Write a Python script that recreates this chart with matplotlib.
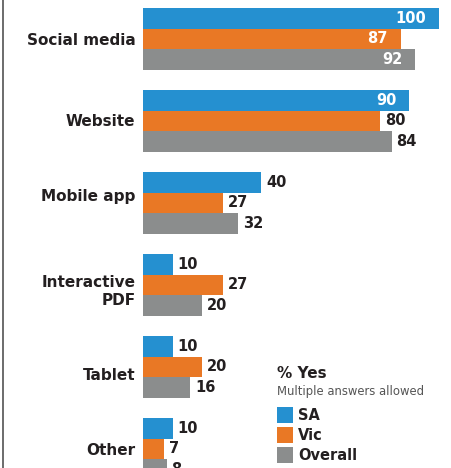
import matplotlib
matplotlib.use("Agg")
import matplotlib.pyplot as plt
from matplotlib.patches import Rectangle
from matplotlib.lines import Line2D
import numpy as np

# Data (% answering yes)
categories = ["Social media", "Website", "Mobile app", "Interactive\nPDF", "Tablet", "Other"]
series_names = ["SA", "Vic", "Overall"]
sa = [100, 90, 40, 10, 10, 10]
vic = [87, 80, 27, 27, 20, 7]
overall = [92, 84, 32, 20, 16, 8]

# values printed in white inside the bar: (category index, series index)
inside_labels = {(0, 0), (0, 1), (0, 2), (1, 0)}

colors = ["#2590d0", "#e97825", "#8b8d8d"]
dark = "#231f20"

plt.rcParams["font.family"] = ["DejaVu Sans"]

W, H = 451, 468
PX_PER_BAR = 20.5
fig = plt.figure(figsize=(W / 100, H / 100), dpi=100)
ax = fig.add_axes([143 / W, 0, 308 / W, 1])

bar_h = 1.0
group_step = 4.0
centers = np.arange(len(categories)) * group_step

for j, vals in enumerate([sa, vic, overall]):
    ypos = centers + (j - 1) * bar_h
    bars = ax.barh(ypos, vals, height=bar_h, color=colors[j], linewidth=0)
    for i, (rect, v) in enumerate(zip(bars, vals)):
        yc = rect.get_y() + rect.get_height() / 2
        if (i, j) in inside_labels:
            ax.annotate(f"{v}", xy=(v, yc), xytext=(-9.5, 0), textcoords="offset points",
                        ha="right", va="center", fontsize=10.5, weight="bold", color="white")
        else:
            ax.annotate(f"{v}", xy=(v, yc), xytext=(3.5, 0), textcoords="offset points",
                        ha="left", va="center", fontsize=10.5, weight="bold", color=dark,
                        annotation_clip=False)

ax.set_xlim(0, 308 / 2.96)
ax.set_ylim(-1.90 + H / PX_PER_BAR, -1.90)

# category names sit a little off the group centre in a few places (pixels)
label_nudge = np.array([0, -1, -8, 4, 7, 0]) / PX_PER_BAR
ax.set_yticks(centers + label_nudge)
ax.set_yticklabels(categories, fontsize=11, weight="bold", color=dark)
ax.tick_params(axis="y", length=0, pad=5.5)
ax.set_xticks([])
for s in ax.spines.values():
    s.set_visible(False)

# thin rule on the left edge
fig.add_artist(Line2D([2.5 / W, 2.5 / W], [0, 1], color="#444444", linewidth=1.1))

# legend block
def fx(px):
    return px / W

def fy(py):
    return 1 - py / H

fig.text(fx(277), fy(373), "% Yes", fontsize=11, weight="bold", color=dark, va="center")
fig.text(fx(277), fy(392), "Multiple answers allowed", fontsize=8.4, color="#555555", va="center")
for k, name in enumerate(series_names):
    top = 407 + k * 20
    fig.add_artist(Rectangle((fx(277), fy(top + 16)), 16 / W, 16 / H,
                             transform=fig.transFigure, color=colors[k], linewidth=0))
    fig.text(fx(298), fy(top + 8), name, fontsize=10.5, weight="bold", color=dark, va="center")

fig.savefig("out.png", dpi=100)
